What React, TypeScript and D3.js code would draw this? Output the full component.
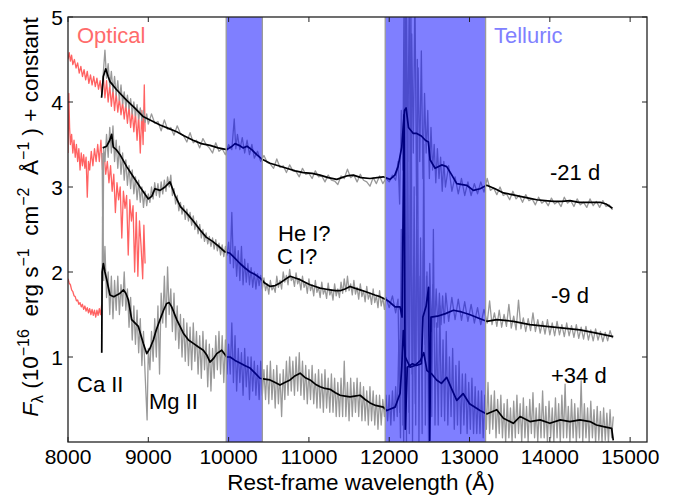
import React from "react";
import * as d3 from "d3";

type P = [number, number];

// ---- axis ticks ----
const xTickValues = [8000, 9000, 10000, 11000, 12000, 13000, 14000, 15000];
const yTickValues = [1, 2, 3, 4, 5];

// ---- telluric bands (Å) ----
const telluricBands: P[] = [
  [9970, 10420],
  [11950, 13200],
];

// ---- optical (red) spectra ----
const opticalM21: P[] = [
  [8000, 4.5], [8015, 4.58], [8030, 4.48], [8045, 4.55], [8060, 4.44], [8080, 4.5], [8100, 4.4], [8120, 4.46],
  [8140, 4.34], [8160, 4.42], [8180, 4.3], [8200, 4.38], [8220, 4.26], [8240, 4.36], [8260, 4.22], [8280, 4.32],
  [8300, 4.2], [8320, 4.3], [8340, 4.18], [8360, 4.28], [8380, 4.15], [8400, 4.25], [8420, 4.1], [8440, 4.3],
  [8460, 4.05], [8480, 4.25], [8500, 4.0], [8520, 4.2], [8540, 3.95], [8560, 4.15], [8580, 3.9], [8600, 4.1],
  [8620, 3.88], [8640, 4.05], [8660, 3.85], [8680, 4.0], [8700, 3.8], [8720, 3.98], [8740, 3.75], [8760, 3.95],
  [8780, 3.7], [8800, 3.9], [8820, 3.65], [8840, 3.88], [8860, 3.55], [8880, 3.85], [8900, 3.4], [8920, 3.9],
  [8935, 3.5], [8950, 4.2], [8960, 3.65],
];
const opticalM9: P[] = [
  [8000, 3.4], [8010, 4.1], [8020, 3.7], [8030, 3.5], [8045, 3.62], [8060, 3.4], [8075, 3.55], [8090, 3.35],
  [8105, 3.5], [8120, 3.3], [8135, 3.45], [8150, 3.2], [8165, 3.4], [8180, 3.25], [8195, 3.38], [8210, 3.22],
  [8225, 3.35], [8240, 2.88], [8255, 3.3], [8270, 3.2], [8290, 3.42], [8310, 3.25], [8330, 3.45], [8350, 3.3],
  [8370, 3.5], [8390, 3.3], [8410, 3.55], [8430, 3.2], [8450, 3.4], [8470, 3.15], [8490, 3.3], [8510, 3.05],
  [8530, 3.25], [8550, 2.95], [8570, 3.15], [8590, 2.7], [8610, 3.05], [8630, 2.85], [8650, 3.0], [8670, 2.4],
  [8690, 2.95], [8710, 2.75], [8730, 2.9], [8750, 2.2], [8770, 2.85], [8790, 2.6], [8810, 2.78], [8830, 2.0],
  [8850, 2.7], [8870, 1.95], [8890, 2.6], [8910, 2.3], [8930, 1.92], [8945, 2.55], [8960, 2.1],
];
const opticalP34: P[] = [
  [8000, 1.92], [8015, 1.87], [8030, 1.85], [8045, 1.79], [8060, 1.77], [8075, 1.72], [8090, 1.71], [8105, 1.66],
  [8120, 1.67], [8135, 1.62], [8150, 1.64], [8165, 1.59], [8180, 1.62], [8195, 1.56], [8210, 1.6], [8225, 1.54],
  [8240, 1.58], [8255, 1.52], [8270, 1.57], [8285, 1.5], [8300, 1.56], [8315, 1.49], [8330, 1.55], [8345, 1.47],
  [8360, 1.55], [8375, 1.49], [8390, 1.57], [8405, 1.5], [8420, 1.62],
];

// ---- NIR raw (grey) spectra ----
const rawM21: P[] = [
  [8420, 4.08], [8440, 4.35], [8460, 4.61], [8480, 4.28], [8500, 4.45], [8520, 4.18], [8540, 4.36], [8560, 4.12],
  [8580, 4.3], [8600, 4.08], [8620, 4.25], [8640, 4.02], [8660, 4.2], [8680, 3.98], [8700, 4.12], [8720, 3.94],
  [8740, 4.08], [8760, 3.92], [8780, 4.04], [8800, 3.86], [8820, 4.0], [8840, 3.84], [8860, 3.97], [8880, 3.8],
  [8900, 3.93], [8920, 3.78], [8940, 3.9], [8960, 3.76], [8980, 3.86],
  [9000, 3.74], [9040, 3.86], [9080, 3.75], [9120, 3.77], [9160, 3.66], [9200, 3.79], [9240, 3.68], [9280, 3.7],
  [9320, 3.61], [9360, 3.72], [9400, 3.63], [9440, 3.6], [9480, 3.53], [9520, 3.64], [9560, 3.52], [9600, 3.55],
  [9640, 3.46], [9680, 3.57], [9720, 3.5], [9760, 3.46], [9800, 3.4], [9840, 3.52], [9880, 3.42], [9920, 3.45],
  [9960, 3.38], [10000, 3.5], [10040, 3.44],
  [10070, 3.8], [10090, 3.45], [10110, 3.62], [10140, 3.44], [10170, 3.58], [10200, 3.4], [10230, 3.55], [10260, 3.38],
  [10290, 3.5], [10320, 3.34], [10360, 3.42],
  [10400, 3.3], [10440, 3.37], [10480, 3.29], [10520, 3.27], [10560, 3.22], [10600, 3.33], [10640, 3.23], [10680, 3.25],
  [10720, 3.17], [10760, 3.26], [10800, 3.19], [10840, 3.18], [10880, 3.12], [10920, 3.22], [10960, 3.15], [11000, 3.16],
  [11040, 3.1], [11080, 3.19], [11120, 3.12], [11160, 3.13], [11200, 3.06], [11240, 3.14], [11280, 3.08], [11320, 3.07],
  [11360, 3.03], [11400, 3.13], [11440, 3.1], [11480, 3.21], [11520, 3.11], [11560, 3.14], [11600, 3.06], [11640, 3.15],
  [11680, 3.08], [11720, 3.06], [11760, 3.01], [11800, 3.11], [11840, 3.04], [11880, 3.13], [11920, 3.04], [11960, 3.1],
  [12000, 3.06], [12040, 3.14], [12080, 3.08], [12110, 3.3], [12130, 2.8],
  [12150, 3.9], [12170, 3.2], [12185, 5.3], [12200, 1.2], [12215, 5.3], [12230, 3.3], [12250, 5.3], [12265, 2.4],
  [12280, 4.8], [12300, 3.4], [12320, 5.3], [12340, 2.9], [12360, 4.4], [12380, 3.3], [12400, 4.6], [12420, 3.1],
  [12440, 4.1], [12460, 3.4], [12480, 3.9], [12500, 3.1], [12520, 3.7], [12540, 3.2], [12560, 3.5], [12580, 3.05],
  [12600, 3.45], [12620, 3.1], [12640, 3.35], [12660, 2.95], [12680, 3.3], [12700, 3.0], [12740, 3.25], [12780, 2.95],
  [12820, 3.12], [12860, 2.92], [12900, 3.1], [12940, 2.9], [12980, 3.06], [13020, 2.9], [13060, 3.04], [13100, 2.92],
  [13140, 3.06], [13180, 2.94],
  [13220, 3.1], [13260, 2.96], [13300, 2.99], [13340, 2.91], [13380, 3.0], [13420, 2.9], [13460, 2.92], [13500, 2.85],
  [13540, 2.95], [13580, 2.86], [13620, 2.9], [13660, 2.82], [13700, 2.91], [13740, 2.84], [13780, 2.86], [13820, 2.79],
  [13860, 2.88], [13900, 2.81], [13940, 2.84], [13980, 2.78], [14020, 2.87], [14060, 2.8], [14100, 2.83], [14140, 2.77],
  [14180, 2.88], [14220, 2.81], [14260, 2.84], [14300, 2.77], [14340, 2.86], [14380, 2.79], [14420, 2.82], [14460, 2.76],
  [14500, 2.86], [14540, 2.78], [14580, 2.83], [14620, 2.76], [14660, 2.84], [14700, 2.77], [14740, 2.79], [14780, 2.73],
];
const rawM9: P[] = [
  [8425, 3.4], [8435, 2.05], [8445, 3.45], [8460, 3.3], [8480, 3.62], [8500, 3.35], [8520, 3.7], [8540, 3.4],
  [8560, 3.72], [8580, 3.3], [8600, 3.55], [8620, 3.22], [8640, 3.48], [8660, 3.15], [8680, 3.4], [8700, 3.08],
  [8720, 3.32], [8740, 3.02], [8760, 3.25], [8780, 2.98], [8800, 3.2], [8820, 2.92], [8840, 3.12], [8860, 2.85],
  [8880, 3.08], [8900, 2.82], [8920, 3.0], [8940, 2.76], [8960, 2.95], [8980, 2.78], [9000, 2.92], [9020, 2.82],
  [9040, 3.0], [9060, 2.86], [9080, 3.05], [9100, 2.9], [9120, 3.04], [9140, 2.88], [9160, 3.06], [9180, 2.92],
  [9200, 3.08], [9220, 2.95], [9240, 3.12], [9260, 3.0], [9280, 3.14], [9300, 2.9], [9320, 2.98], [9340, 2.8],
  [9360, 2.9], [9380, 2.72], [9400, 2.82], [9420, 2.68], [9440, 2.78], [9460, 2.62], [9480, 2.74], [9500, 2.6],
  [9520, 2.7], [9540, 2.55], [9560, 2.66], [9580, 2.5], [9600, 2.6], [9620, 2.45], [9640, 2.56], [9660, 2.4],
  [9680, 2.5], [9700, 2.36], [9720, 2.46], [9740, 2.33], [9760, 2.42], [9780, 2.3], [9800, 2.4], [9820, 2.27],
  [9840, 2.38], [9860, 2.25], [9880, 2.34], [9900, 2.2], [9920, 2.32], [9940, 2.18], [9960, 2.3], [9980, 2.2],
  [10000, 2.35], [10020, 2.1], [10040, 2.7], [10060, 2.05], [10080, 2.3], [10100, 1.95], [10120, 2.25], [10140, 1.9],
  [10160, 2.3], [10180, 1.85], [10200, 2.15], [10220, 1.88], [10240, 2.1], [10260, 1.85], [10280, 2.05], [10300, 1.82],
  [10320, 2.0], [10340, 1.8], [10360, 1.98], [10380, 1.84], [10400, 1.96],
  [10420, 1.8], [10440, 1.93], [10460, 1.78], [10480, 1.86], [10500, 1.74], [10520, 1.9], [10540, 1.79], [10560, 1.83],
  [10580, 1.76], [10600, 1.95], [10620, 1.82], [10640, 1.9], [10660, 1.8], [10680, 2.0], [10700, 1.88], [10720, 1.96],
  [10740, 1.85], [10760, 2.03], [10780, 1.9], [10800, 1.94], [10820, 1.83], [10840, 1.99], [10860, 1.86], [10880, 1.92],
  [10900, 1.79], [10920, 1.95], [10940, 1.82], [10960, 1.88], [10980, 1.75], [11000, 1.92], [11020, 1.78], [11040, 1.85],
  [11060, 1.72], [11080, 1.9], [11100, 1.76], [11120, 1.82], [11140, 1.7], [11160, 1.88], [11180, 1.74], [11200, 1.8],
  [11220, 1.69], [11240, 1.87], [11260, 1.73], [11280, 1.79], [11300, 1.67], [11320, 1.86], [11340, 1.72], [11360, 1.8],
  [11380, 1.7], [11400, 1.88], [11420, 1.75], [11440, 1.92], [11460, 1.77], [11480, 1.95], [11500, 1.78], [11520, 1.86],
  [11540, 1.73], [11560, 1.9], [11580, 1.74], [11600, 1.82], [11620, 1.68], [11640, 1.86], [11660, 1.71], [11680, 1.78],
  [11700, 1.65], [11720, 1.83], [11740, 1.68], [11760, 1.75], [11780, 1.62], [11800, 1.8], [11820, 1.64], [11840, 1.72],
  [11860, 1.58], [11880, 1.78], [11900, 1.6], [11920, 1.7], [11940, 1.56], [11960, 1.7],
  [12000, 1.58], [12040, 1.72], [12080, 1.52], [12110, 1.68], [12130, 0.35],
  [12150, 2.5], [12170, 0.2], [12190, 3.3], [12205, 0.5], [12225, 2.3], [12245, 0.35], [12265, 2.9], [12285, 0.8],
  [12305, 2.1], [12325, 0.45], [12345, 2.5], [12365, 0.95], [12385, 1.95], [12405, 0.75], [12425, 2.25], [12445, 1.15],
  [12465, 1.95], [12485, 1.25], [12505, 2.1], [12525, 1.3], [12545, 1.85], [12565, 1.35], [12585, 1.8], [12605, 1.35],
  [12625, 1.75], [12645, 1.38], [12665, 1.72], [12685, 1.4], [12705, 1.75], [12740, 1.42], [12780, 1.7], [12820, 1.44],
  [12860, 1.68], [12900, 1.43], [12940, 1.65], [12980, 1.42], [13020, 1.62], [13060, 1.4], [13100, 1.58], [13140, 1.38],
  [13180, 1.56], [13220, 1.4], [13250, 1.66], [13280, 1.38], [13310, 1.52], [13340, 1.36], [13370, 1.55], [13400, 1.35],
  [13430, 1.5], [13460, 1.36], [13490, 1.62], [13520, 1.34], [13550, 1.48], [13580, 1.32], [13610, 1.67], [13640, 1.33],
  [13670, 1.46], [13700, 1.3], [13730, 1.45], [13760, 1.31], [13790, 1.52], [13820, 1.3], [13850, 1.44], [13880, 1.28],
  [13910, 1.42], [13940, 1.27], [13970, 1.44], [14000, 1.26], [14030, 1.4], [14060, 1.25], [14090, 1.42], [14120, 1.26],
  [14150, 1.38], [14180, 1.24], [14210, 1.4], [14240, 1.25], [14270, 1.37], [14300, 1.23], [14330, 1.38], [14360, 1.22],
  [14390, 1.35], [14420, 1.21], [14450, 1.36], [14480, 1.2], [14510, 1.32], [14540, 1.19], [14570, 1.33], [14600, 1.2],
  [14630, 1.3], [14660, 1.18], [14690, 1.29], [14720, 1.19], [14750, 1.31], [14780, 1.22],
];
const rawP34: P[] = [
  [8420, 1.05], [8430, 2.65], [8445, 1.9], [8460, 2.3], [8480, 1.7], [8500, 2.0], [8520, 1.5], [8540, 1.95],
  [8560, 1.45], [8580, 1.9], [8600, 1.55], [8620, 1.95], [8640, 1.5], [8660, 1.85], [8680, 1.6], [8700, 2.0],
  [8720, 1.55], [8740, 1.8], [8760, 1.35], [8780, 1.7], [8800, 1.2], [8820, 1.6], [8840, 1.15], [8860, 1.55],
  [8880, 1.05], [8900, 1.45], [8920, 0.9], [8940, 1.3], [8960, 0.8], [8985, 0.26], [9000, 1.1], [9020, 0.85],
  [9040, 1.3], [9060, 0.95], [9080, 1.45], [9100, 1.0], [9120, 1.6], [9140, 0.8], [9160, 1.75], [9180, 1.4],
  [9200, 1.95], [9220, 1.35], [9240, 2.06], [9260, 1.5], [9280, 1.8], [9300, 1.3], [9320, 1.75], [9340, 1.2],
  [9360, 1.6], [9380, 1.1], [9400, 1.5], [9420, 1.0], [9440, 1.45], [9460, 0.95], [9480, 1.4], [9500, 0.9],
  [9520, 1.35], [9540, 0.85], [9560, 1.4], [9580, 0.95], [9600, 1.3], [9620, 0.8], [9640, 1.25], [9660, 0.75],
  [9680, 1.3], [9700, 0.85], [9720, 1.2], [9740, 0.65], [9760, 1.15], [9780, 0.6], [9800, 1.1], [9820, 0.75],
  [9840, 1.25], [9860, 0.85], [9880, 1.3], [9900, 0.8], [9920, 1.25], [9940, 0.7], [9960, 1.2], [9980, 0.8],
  [10000, 1.15], [10020, 0.8], [10040, 1.4], [10060, 0.7], [10080, 1.25], [10100, 0.6], [10120, 1.1], [10140, 0.7],
  [10160, 1.05], [10180, 0.55], [10200, 1.1], [10220, 0.65], [10240, 1.0], [10260, 0.5], [10280, 1.0], [10300, 0.6],
  [10320, 0.95], [10340, 0.55], [10360, 0.9], [10380, 0.5], [10400, 0.95], [10420, 0.55], [10440, 0.85], [10460, 0.5],
  [10480, 0.9], [10500, 0.45], [10520, 0.95], [10540, 0.5], [10560, 0.85], [10580, 0.4], [10600, 0.9], [10620, 0.45],
  [10640, 0.8], [10660, 0.3], [10680, 0.85], [10700, 0.5], [10720, 0.95], [10740, 0.55], [10760, 1.0], [10780, 0.6],
  [10800, 0.95], [10820, 0.55], [10840, 1.0], [10860, 0.6], [10880, 1.05], [10900, 0.55], [10920, 0.95], [10940, 0.5],
  [10960, 0.9], [10980, 0.45], [11000, 0.85], [11020, 0.5], [11040, 0.9], [11060, 0.45], [11080, 0.8], [11100, 0.4],
  [11120, 0.85], [11140, 0.4], [11160, 0.8], [11180, 0.35], [11200, 0.85], [11220, 0.4], [11240, 0.75], [11260, 0.35],
  [11280, 0.8], [11300, 0.35], [11320, 0.75], [11340, 0.3], [11360, 0.7], [11380, 0.3], [11400, 0.75], [11420, 0.3],
  [11440, 0.95], [11460, 0.3], [11480, 0.7], [11500, 0.25], [11520, 0.75], [11540, 0.3], [11560, 0.7], [11580, 0.35],
  [11600, 0.75], [11620, 0.3], [11640, 0.7], [11660, 0.25], [11680, 0.65], [11700, 0.25], [11720, 0.6], [11740, 0.2],
  [11760, 0.65], [11780, 0.25], [11800, 0.6], [11820, 0.2], [11840, 0.55], [11860, 0.15], [11880, 0.55], [11900, 0.2],
  [11920, 0.5], [11940, 0.3], [11960, 0.55], [11980, 0.25], [12000, 0.55], [12020, 0.2], [12040, 0.6], [12060, 0.25],
  [12080, 0.65], [12100, 0.3], [12120, 1.2], [12140, 0.05], [12160, 2.0], [12180, 0.0], [12200, 5.2], [12215, 0.0],
  [12230, 4.0], [12250, 0.1], [12270, 5.2], [12290, 0.0], [12310, 3.0], [12330, 0.2], [12350, 4.5], [12370, 0.0],
  [12390, 2.4], [12410, 0.1], [12430, 3.5], [12450, 0.2], [12470, 2.0], [12490, 0.0], [12510, 1.7], [12530, 0.3],
  [12550, 2.5], [12570, 0.2], [12590, 1.4], [12610, 0.2], [12630, 1.6], [12650, 0.3], [12670, 1.2], [12690, 0.25],
  [12710, 1.3], [12730, 0.2], [12750, 1.0], [12770, 0.3], [12790, 1.1], [12810, 0.15], [12830, 0.9], [12850, 0.2],
  [12870, 0.95], [12890, 0.1], [12910, 0.8], [12930, 0.2], [12950, 0.8], [12970, 0.1], [12990, 0.7], [13010, 0.15],
  [13030, 0.75], [13050, 0.1], [13070, 0.65], [13090, 0.1], [13110, 0.6], [13130, 0.1], [13150, 0.6], [13170, 0.05],
  [13190, 0.55], [13210, 0.15], [13230, 0.7], [13250, 0.1], [13270, 0.55], [13290, 0.15], [13310, 0.6], [13330, 0.05],
  [13350, 0.5], [13370, 0.1], [13390, 0.55], [13410, 0.05], [13430, 0.45], [13450, 0.0], [13470, 0.5], [13490, 0.05],
  [13510, 0.4], [13530, 0.0], [13550, 0.48], [13570, 0.05], [13590, 0.55], [13610, 0.1], [13630, 0.45], [13650, 0.0],
  [13670, 0.52], [13690, 0.05], [13710, 0.42], [13730, 0.0], [13750, 0.5], [13770, 0.1], [13790, 0.58], [13810, 0.05],
  [13830, 0.4], [13850, 0.0], [13870, 0.45], [13890, 0.05], [13910, 0.6], [13930, 0.05], [13950, 0.42], [13970, 0.0],
  [13990, 0.48], [14010, 0.05], [14030, 0.4], [14050, 0.0], [14070, 0.52], [14090, 0.05], [14110, 0.45], [14130, 0.0],
  [14150, 0.55], [14170, 0.05], [14190, 0.68], [14210, 0.05], [14230, 0.42], [14250, 0.0], [14270, 0.5], [14290, 0.05],
  [14310, 0.45], [14330, 0.0], [14350, 0.4], [14370, 0.05], [14390, 0.72], [14410, 0.0], [14430, 0.45], [14450, 0.05],
  [14470, 0.4], [14490, 0.0], [14510, 0.48], [14530, 0.05], [14550, 0.38], [14570, 0.0], [14590, 0.42], [14610, 0.02],
  [14630, 0.36], [14650, 0.0], [14670, 0.4], [14690, 0.02], [14710, 0.34], [14730, 0.0], [14750, 0.38], [14770, 0.05],
  [14790, 0.3],
];

// ---- smoothed (black) spectra ----
const smoothM21: P[] = [
  [8418, 4.05], [8440, 4.3], [8470, 4.39], [8500, 4.3], [8523, 4.24], [8600, 4.15], [8731, 4.02], [8830, 3.93],
  [8934, 3.83], [9040, 3.78], [9146, 3.73], [9250, 3.69], [9354, 3.65], [9450, 3.6], [9557, 3.55], [9660, 3.51],
  [9769, 3.49], [9870, 3.46], [9977, 3.44], [10030, 3.47], [10080, 3.51], [10130, 3.49], [10183, 3.46], [10230, 3.48],
  [10288, 3.44], [10350, 3.38], [10412, 3.33], [10516, 3.28], [10620, 3.25], [10723, 3.22], [10830, 3.19], [10930, 3.17],
  [11040, 3.16], [11139, 3.14], [11240, 3.11], [11347, 3.09], [11410, 3.11], [11470, 3.13], [11552, 3.14], [11650, 3.11],
  [11761, 3.1], [11850, 3.11], [11925, 3.12], [12010, 3.09], [12070, 3.14], [12110, 3.24], [12156, 3.47], [12190, 3.9],
  [12210, 3.93], [12240, 3.7], [12300, 3.63], [12343, 3.63], [12400, 3.6], [12450, 3.55], [12488, 3.53], [12509, 3.32],
  [12571, 3.22], [12654, 3.26], [12716, 3.24], [12780, 3.14], [12841, 3.04], [12965, 3.02], [13048, 2.96], [13131, 2.98],
  [13214, 3.02], [13318, 2.98], [13422, 2.93], [13530, 2.91], [13630, 2.89], [13737, 2.87], [13837, 2.85], [13940, 2.84],
  [14045, 2.83], [14150, 2.83], [14252, 2.84], [14360, 2.82], [14460, 2.82], [14550, 2.82], [14626, 2.82], [14700, 2.8],
  [14780, 2.75],
];
const smoothM9: P[] = [
  [8432, 3.46], [8482, 3.48], [8520, 3.55], [8544, 3.62], [8564, 3.47], [8600, 3.44], [8648, 3.38], [8731, 3.24],
  [8813, 3.12], [8897, 3.0], [9000, 2.86], [9042, 2.89], [9083, 2.98], [9146, 2.96], [9208, 3.0], [9270, 3.06],
  [9333, 2.9], [9400, 2.77], [9480, 2.69], [9560, 2.6], [9640, 2.5], [9720, 2.41], [9800, 2.36], [9880, 2.3],
  [9950, 2.24], [10018, 2.22], [10080, 2.16], [10142, 2.1], [10200, 2.05], [10267, 2.0], [10330, 1.97], [10391, 1.93],
  [10450, 1.87], [10516, 1.83], [10580, 1.84], [10640, 1.87], [10700, 1.91], [10765, 1.95], [10830, 1.93], [10890, 1.91],
  [10950, 1.88], [11014, 1.85], [11080, 1.83], [11139, 1.81], [11200, 1.8], [11263, 1.79], [11330, 1.78], [11388, 1.78],
  [11450, 1.8], [11512, 1.83], [11570, 1.81], [11637, 1.79], [11700, 1.77], [11761, 1.75], [11820, 1.73], [11886, 1.71],
  [11969, 1.67], [12000, 1.65], [12073, 1.59], [12135, 1.59], [12160, 1.47], [12185, 3.85], [12200, 0.15], [12225, 0.88],
  [12290, 0.92], [12340, 0.9], [12400, 0.92], [12420, 1.47], [12460, 1.6], [12490, 1.82], [12505, 0.02], [12520, 1.47],
  [12600, 1.48], [12700, 1.51], [12800, 1.55], [12900, 1.53], [13000, 1.5], [13131, 1.45], [13214, 1.42], [13339, 1.44],
  [13545, 1.42], [13752, 1.38], [13960, 1.36], [14170, 1.34], [14375, 1.32], [14580, 1.28], [14790, 1.24],
];
const smoothP34: P[] = [
  [8420, 1.05], [8425, 2.0], [8440, 2.1], [8460, 2.0], [8482, 1.91], [8523, 1.73], [8570, 1.71], [8610, 1.73],
  [8648, 1.75], [8690, 1.79], [8720, 1.75], [8752, 1.67], [8793, 1.44], [8876, 1.36], [8938, 1.16], [8980, 1.04],
  [9020, 1.1], [9063, 1.2], [9100, 1.32], [9146, 1.44], [9190, 1.55], [9229, 1.63], [9260, 1.64], [9291, 1.59],
  [9354, 1.44], [9436, 1.28], [9500, 1.2], [9561, 1.16], [9620, 1.12], [9685, 1.08], [9730, 1.02], [9769, 0.94],
  [9810, 0.98], [9852, 1.04], [9914, 1.08], [9977, 1.0], [10018, 1.0], [10080, 0.96], [10142, 0.93], [10200, 0.9],
  [10267, 0.87], [10330, 0.81], [10391, 0.75], [10450, 0.74], [10516, 0.73], [10580, 0.7], [10640, 0.67], [10700, 0.7],
  [10765, 0.73], [10830, 0.78], [10890, 0.81], [10950, 0.76], [11014, 0.73], [11080, 0.68], [11139, 0.65], [11200, 0.63],
  [11263, 0.62], [11330, 0.58], [11388, 0.55], [11450, 0.54], [11512, 0.53], [11570, 0.54], [11637, 0.55], [11700, 0.5],
  [11761, 0.46], [11830, 0.43], [11926, 0.41], [11969, 0.37], [12073, 0.41], [12135, 0.57], [12156, 0.88], [12176, 1.31],
  [12200, 1.0], [12260, 0.88], [12320, 0.9], [12390, 0.96], [12430, 1.05], [12470, 0.84], [12530, 0.8], [12590, 0.73],
  [12650, 0.69], [12716, 0.76], [12780, 0.62], [12841, 0.49], [12920, 0.57], [13000, 0.45], [13131, 0.37], [13214, 0.33],
  [13339, 0.38], [13422, 0.28], [13545, 0.22], [13630, 0.3], [13752, 0.24], [13880, 0.26], [14000, 0.22], [14130, 0.26],
  [14250, 0.24], [14375, 0.26], [14500, 0.24], [14580, 0.2], [14670, 0.18], [14770, 0.16], [14790, 0.02],
];

const opticalSeries = [opticalM21, opticalM9, opticalP34];
const rawSeries = [rawM21, rawM9, rawP34];
const smoothSeries = [smoothM21, smoothM9, smoothP34];

const W = 683;
const H = 498;
const L = 68, R = 647, T = 17, B = 442;
const FONT = "'Liberation Sans', Arial, Helvetica, sans-serif";

export default function App() {
  const x = d3.scaleLinear().domain([8000, 15210]).range([L, R]);
  const y = d3.scaleLinear().domain([0, 5]).range([B, T]);
  const line = d3.line<P>().x((d) => x(d[0])).y((d) => y(d[1]));
  const nb = "\u00a0";

  return (
    <svg width={W} height={H} viewBox={`0 0 ${W} ${H}`} style={{ display: "block", position: "absolute", left: 0, top: 0, background: "#fff" }} fontFamily={FONT}>
      <defs>
        <clipPath id="plotClip">
          <rect x={L} y={T} width={R - L} height={B - T} />
        </clipPath>
      </defs>
      <rect x={0} y={0} width={W} height={H} fill="#fff" />
      <g clipPath="url(#plotClip)">
        {opticalSeries.map((s, i) => (
          <path key={"o" + i} d={line(s) || ""} fill="none" stroke="#ff6262" strokeWidth={1.3} strokeLinejoin="round" />
        ))}
        {rawSeries.map((s, i) => (
          <path key={"r" + i} d={line(s) || ""} fill="none" stroke="#999999" strokeWidth={1.3} strokeLinejoin="round" />
        ))}
        {smoothSeries.map((s, i) => (
          <path key={"s" + i} d={line(s) || ""} fill="none" stroke="#000" strokeWidth={1.7} strokeLinejoin="round" />
        ))}
        {telluricBands.map((b, i) => (
          <rect key={"b" + i} x={x(b[0])} y={T - 2} width={x(b[1]) - x(b[0])} height={B - T + 4}
            fill="rgba(0,0,255,0.5)" stroke="#9a9a9a" strokeWidth={1.3} />
        ))}
      </g>
      {/* frame */}
      <rect x={L} y={T} width={R - L} height={B - T} fill="none" stroke="#222" strokeWidth={1.3} />
      {/* ticks */}
      {xTickValues.map((t) => (
        <g key={"xt" + t}>
          <line x1={x(t)} x2={x(t)} y1={B} y2={B - 5} stroke="#222" strokeWidth={1} />
          <line x1={x(t)} x2={x(t)} y1={T} y2={T + 5} stroke="#222" strokeWidth={1} />
          <text x={x(t)} y={464} textAnchor="middle" fontSize={21} fill="#000">{t}</text>
        </g>
      ))}
      {yTickValues.map((t) => (
        <g key={"yt" + t}>
          <line x1={L} x2={L + 5} y1={y(t)} y2={y(t)} stroke="#222" strokeWidth={1} />
          <line x1={R} x2={R - 5} y1={y(t)} y2={y(t)} stroke="#222" strokeWidth={1} />
          <text x={63} y={y(t) + 7.5} textAnchor="end" fontSize={21} fill="#000">{t}</text>
        </g>
      ))}
      {/* annotations */}
      <text x={77} y={43} fontSize={22} fill="#ff6b6b">Optical</text>
      <text x={494} y={43} fontSize={22} fill="#8080ff">Telluric</text>
      <text x={550} y={180} fontSize={22} fill="#000">-21 d</text>
      <text x={551} y={303} fontSize={22} fill="#000">-9 d</text>
      <text x={551} y={383} fontSize={22} fill="#000">+34 d</text>
      <text x={278} y={241} fontSize={22} fill="#000">He I?</text>
      <text x={277} y={264} fontSize={22} fill="#000">C I?</text>
      <text x={77} y={392} fontSize={22} fill="#000">Ca II</text>
      <text x={149} y={409} fontSize={22} fill="#000">Mg II</text>
      {/* axis labels */}
      <text x={361} y={490} textAnchor="middle" fontSize={22.5} fill="#000">Rest-frame wavelength (Å)</text>
      <text transform="translate(38,217) rotate(-90)" textAnchor="middle" fontSize={22.5} fill="#000">
        <tspan fontStyle="italic">F</tspan>
        <tspan fontSize={16} dy={5}>λ</tspan>
        <tspan dy={-5}>{nb}(10</tspan>
        <tspan fontSize={16} dy={-9}>−16</tspan>
        <tspan dy={9}>{nb}{nb}erg s</tspan>
        <tspan fontSize={16} dy={-9}>−1</tspan>
        <tspan dy={9}>{nb}{nb}cm</tspan>
        <tspan fontSize={16} dy={-9}>−2</tspan>
        <tspan dy={9}>{nb}{nb}Å</tspan>
        <tspan fontSize={16} dy={-9}>−1</tspan>
        <tspan dy={9}>{nb}) + constant</tspan>
      </text>
    </svg>
  );
}
